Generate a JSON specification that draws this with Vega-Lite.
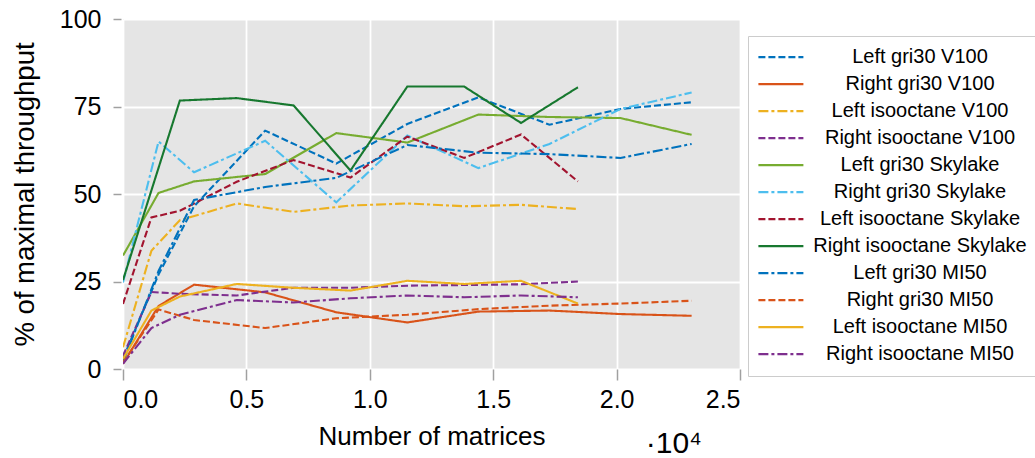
{
  "$schema": "https://vega.github.io/schema/vega-lite/v6.json",
  "width": 617,
  "height": 350,
  "autosize": {"type": "none"},
  "padding": {"left": 123, "top": 19, "right": 295, "bottom": 89},
  "background": "white",
  "title": {"text": "·10⁴", "orient": "bottom", "anchor": "end", "frame": "group", "dx": -38, "dy": -24, "fontSize": 30, "font": "Liberation Sans", "fontWeight": "normal", "color": "black"},
  "config": {
    "view": {"fill": "#e5e5e5", "stroke": null},
    "font": "Liberation Sans"
  },
  "datasets": {
    "pts": [
      {"s": "Left gri30 V100", "x": 0, "y": 3},
      {"s": "Left gri30 V100", "x": 1440, "y": 27},
      {"s": "Left gri30 V100", "x": 2880, "y": 46.5},
      {"s": "Left gri30 V100", "x": 5760, "y": 68.1},
      {"s": "Left gri30 V100", "x": 8640, "y": 58.7},
      {"s": "Left gri30 V100", "x": 11520, "y": 70},
      {"s": "Left gri30 V100", "x": 14400, "y": 77.6},
      {"s": "Left gri30 V100", "x": 17280, "y": 69.8},
      {"s": "Left gri30 V100", "x": 20160, "y": 74.3},
      {"s": "Left gri30 V100", "x": 23040, "y": 76.2},

      {"s": "Right gri30 V100", "x": 0, "y": 1.5},
      {"s": "Right gri30 V100", "x": 1440, "y": 18},
      {"s": "Right gri30 V100", "x": 2880, "y": 24.1},
      {"s": "Right gri30 V100", "x": 5760, "y": 21.9},
      {"s": "Right gri30 V100", "x": 8640, "y": 16.2},
      {"s": "Right gri30 V100", "x": 11520, "y": 13.3},
      {"s": "Right gri30 V100", "x": 14400, "y": 16.4},
      {"s": "Right gri30 V100", "x": 17280, "y": 16.7},
      {"s": "Right gri30 V100", "x": 20160, "y": 15.7},
      {"s": "Right gri30 V100", "x": 23040, "y": 15.2},

      {"s": "Left isooctane V100", "x": 0, "y": 6.2},
      {"s": "Left isooctane V100", "x": 1152, "y": 33.8},
      {"s": "Left isooctane V100", "x": 2304, "y": 42.5},
      {"s": "Left isooctane V100", "x": 4608, "y": 47.3},
      {"s": "Left isooctane V100", "x": 6912, "y": 44.9},
      {"s": "Left isooctane V100", "x": 9216, "y": 46.7},
      {"s": "Left isooctane V100", "x": 11520, "y": 47.3},
      {"s": "Left isooctane V100", "x": 13824, "y": 46.5},
      {"s": "Left isooctane V100", "x": 16128, "y": 46.9},
      {"s": "Left isooctane V100", "x": 18432, "y": 45.7},

      {"s": "Right isooctane V100", "x": 0, "y": 3.8},
      {"s": "Right isooctane V100", "x": 1152, "y": 22},
      {"s": "Right isooctane V100", "x": 2304, "y": 21.5},
      {"s": "Right isooctane V100", "x": 4608, "y": 21},
      {"s": "Right isooctane V100", "x": 6912, "y": 23.2},
      {"s": "Right isooctane V100", "x": 9216, "y": 23.2},
      {"s": "Right isooctane V100", "x": 11520, "y": 23.8},
      {"s": "Right isooctane V100", "x": 13824, "y": 24},
      {"s": "Right isooctane V100", "x": 16128, "y": 24.2},
      {"s": "Right isooctane V100", "x": 18432, "y": 25},

      {"s": "Left gri30 Skylake", "x": 0, "y": 32.4},
      {"s": "Left gri30 Skylake", "x": 1440, "y": 50.3},
      {"s": "Left gri30 Skylake", "x": 2880, "y": 53.6},
      {"s": "Left gri30 Skylake", "x": 5760, "y": 55.7},
      {"s": "Left gri30 Skylake", "x": 8640, "y": 67.4},
      {"s": "Left gri30 Skylake", "x": 11520, "y": 64.7},
      {"s": "Left gri30 Skylake", "x": 14400, "y": 72.7},
      {"s": "Left gri30 Skylake", "x": 17280, "y": 72},
      {"s": "Left gri30 Skylake", "x": 20160, "y": 71.7},
      {"s": "Left gri30 Skylake", "x": 23040, "y": 66.9},

      {"s": "Right gri30 Skylake", "x": 0, "y": 24.7},
      {"s": "Right gri30 Skylake", "x": 1440, "y": 65},
      {"s": "Right gri30 Skylake", "x": 2880, "y": 56.2},
      {"s": "Right gri30 Skylake", "x": 5760, "y": 65.2},
      {"s": "Right gri30 Skylake", "x": 8640, "y": 47.6},
      {"s": "Right gri30 Skylake", "x": 11520, "y": 66.7},
      {"s": "Right gri30 Skylake", "x": 14400, "y": 57.4},
      {"s": "Right gri30 Skylake", "x": 17280, "y": 64.3},
      {"s": "Right gri30 Skylake", "x": 20160, "y": 74.3},
      {"s": "Right gri30 Skylake", "x": 23040, "y": 79},

      {"s": "Left isooctane Skylake", "x": 0, "y": 18.6},
      {"s": "Left isooctane Skylake", "x": 1152, "y": 43.3},
      {"s": "Left isooctane Skylake", "x": 2304, "y": 45.2},
      {"s": "Left isooctane Skylake", "x": 4608, "y": 53.5},
      {"s": "Left isooctane Skylake", "x": 6912, "y": 59.7},
      {"s": "Left isooctane Skylake", "x": 9216, "y": 54.7},
      {"s": "Left isooctane Skylake", "x": 11520, "y": 66.4},
      {"s": "Left isooctane Skylake", "x": 13824, "y": 60.3},
      {"s": "Left isooctane Skylake", "x": 16128, "y": 67},
      {"s": "Left isooctane Skylake", "x": 18432, "y": 53.6},

      {"s": "Right isooctane Skylake", "x": 0, "y": 25.4},
      {"s": "Right isooctane Skylake", "x": 2304, "y": 76.7},
      {"s": "Right isooctane Skylake", "x": 4608, "y": 77.4},
      {"s": "Right isooctane Skylake", "x": 6912, "y": 75.3},
      {"s": "Right isooctane Skylake", "x": 9216, "y": 56.7},
      {"s": "Right isooctane Skylake", "x": 11520, "y": 80.7},
      {"s": "Right isooctane Skylake", "x": 13824, "y": 80.7},
      {"s": "Right isooctane Skylake", "x": 16128, "y": 70.3},
      {"s": "Right isooctane Skylake", "x": 18432, "y": 80.5},

      {"s": "Left gri30 MI50", "x": 0, "y": 2},
      {"s": "Left gri30 MI50", "x": 1440, "y": 28},
      {"s": "Left gri30 MI50", "x": 2880, "y": 48.3},
      {"s": "Left gri30 MI50", "x": 5760, "y": 52},
      {"s": "Left gri30 MI50", "x": 8640, "y": 54.6},
      {"s": "Left gri30 MI50", "x": 11520, "y": 64},
      {"s": "Left gri30 MI50", "x": 14400, "y": 61.8},
      {"s": "Left gri30 MI50", "x": 17280, "y": 61.4},
      {"s": "Left gri30 MI50", "x": 20160, "y": 60.3},
      {"s": "Left gri30 MI50", "x": 23040, "y": 64.3},

      {"s": "Right gri30 MI50", "x": 0, "y": 1.8},
      {"s": "Right gri30 MI50", "x": 1440, "y": 17},
      {"s": "Right gri30 MI50", "x": 2880, "y": 14},
      {"s": "Right gri30 MI50", "x": 5760, "y": 11.7},
      {"s": "Right gri30 MI50", "x": 8640, "y": 14.5},
      {"s": "Right gri30 MI50", "x": 11520, "y": 15.5},
      {"s": "Right gri30 MI50", "x": 14400, "y": 17.1},
      {"s": "Right gri30 MI50", "x": 17280, "y": 18.1},
      {"s": "Right gri30 MI50", "x": 20160, "y": 18.7},
      {"s": "Right gri30 MI50", "x": 23040, "y": 19.5},

      {"s": "Left isooctane MI50", "x": 0, "y": 2.9},
      {"s": "Left isooctane MI50", "x": 1152, "y": 16.7},
      {"s": "Left isooctane MI50", "x": 2304, "y": 20.7},
      {"s": "Left isooctane MI50", "x": 4608, "y": 24.3},
      {"s": "Left isooctane MI50", "x": 6912, "y": 23.2},
      {"s": "Left isooctane MI50", "x": 9216, "y": 22.4},
      {"s": "Left isooctane MI50", "x": 11520, "y": 25.2},
      {"s": "Left isooctane MI50", "x": 13824, "y": 24.3},
      {"s": "Left isooctane MI50", "x": 16128, "y": 25.2},
      {"s": "Left isooctane MI50", "x": 18432, "y": 18.7},

      {"s": "Right isooctane MI50", "x": 0, "y": 1.5},
      {"s": "Right isooctane MI50", "x": 1152, "y": 11.7},
      {"s": "Right isooctane MI50", "x": 2304, "y": 15.5},
      {"s": "Right isooctane MI50", "x": 4608, "y": 19.7},
      {"s": "Right isooctane MI50", "x": 6912, "y": 19},
      {"s": "Right isooctane MI50", "x": 9216, "y": 20.2},
      {"s": "Right isooctane MI50", "x": 11520, "y": 21},
      {"s": "Right isooctane MI50", "x": 13824, "y": 20.5},
      {"s": "Right isooctane MI50", "x": 16128, "y": 21},
      {"s": "Right isooctane MI50", "x": 18432, "y": 20.5}
    ]
  },
  "data": {"name": "pts"},
  "mark": {"type": "line", "strokeWidth": 2.1, "clip": true},
  "encoding": {
    "x": {
      "field": "x", "type": "quantitative",
      "scale": {"domain": [0, 25000], "nice": false, "zero": false},
      "axis": {
        "title": "Number of matrices",
        "values": [0, 5000, 10000, 15000, 20000, 25000],
        "labelExpr": "format(datum.value / 10000, '.1f')",
        "labelFontSize": 25, "labelColor": "black", "labelPadding": 7,
        "titleFontSize": 26, "titleFontWeight": "normal", "titleColor": "black", "titlePadding": 11,
        "domain": false, "tickColor": "#a0a0a0", "tickSize": 11, "tickWidth": 1.5,
        "grid": true, "gridColor": "white", "gridWidth": 1.8
      }
    },
    "y": {
      "field": "y", "type": "quantitative",
      "scale": {"domain": [0, 100], "nice": false},
      "axis": {
        "title": "% of maximal throughput",
        "values": [0, 25, 50, 75, 100],
        "labelFontSize": 25, "labelColor": "black", "labelPadding": 12,
        "titleFontSize": 27.5, "titleFontWeight": "normal", "titleColor": "black", "titlePadding": 20,
        "domain": false, "tickColor": "#a0a0a0", "tickSize": 8, "tickWidth": 1.5, "offset": 2,
        "grid": true, "gridColor": "white", "gridWidth": 1.8
      }
    },
    "color": {
      "field": "s", "type": "nominal",
      "scale": {
        "domain": ["Left gri30 V100", "Right gri30 V100", "Left isooctane V100", "Right isooctane V100", "Left gri30 Skylake", "Right gri30 Skylake", "Left isooctane Skylake", "Right isooctane Skylake", "Left gri30 MI50", "Right gri30 MI50", "Left isooctane MI50", "Right isooctane MI50"],
        "range": ["#0072BD", "#D95319", "#EDB120", "#7E2F8E", "#77AC30", "#4DBEEE", "#A2142F", "#17782f", "#0072BD", "#D95319", "#EDB120", "#7E2F8E"]
      },
      "legend": {
        "title": null,
        "orient": "none", "legendX": 625, "legendY": 17,
        "symbolType": "M-0.9,0H4.1", "symbolSize": 324, "symbolStrokeWidth": 2.1,
        "labelFontSize": 20, "labelColor": "black", "labelAlign": "center", "labelOffset": 143, "labelLimit": 400,
        "clipHeight": 26.2, "rowPadding": 0,
        "padding": 8, "strokeColor": "#cccccc", "fillColor": "white"
      }
    },
    "strokeDash": {
      "field": "s", "type": "nominal",
      "scale": {
        "domain": ["Left gri30 V100", "Right gri30 V100", "Left isooctane V100", "Right isooctane V100", "Left gri30 Skylake", "Right gri30 Skylake", "Left isooctane Skylake", "Right isooctane Skylake", "Left gri30 MI50", "Right gri30 MI50", "Left isooctane MI50", "Right isooctane MI50"],
        "range": [[7, 3], [1, 0], [10, 3, 3, 3], [7, 3], [1, 0], [10, 3, 3, 3], [7, 3], [1, 0], [10, 3, 3, 3], [7, 3], [1, 0], [10, 3, 3, 3]]
      },
      "legend": {
        "title": null,
        "orient": "none", "legendX": 625, "legendY": 17,
        "symbolType": "M-0.9,0H4.1", "symbolSize": 324, "symbolStrokeWidth": 2.1,
        "labelFontSize": 20, "labelColor": "black", "labelAlign": "center", "labelOffset": 143, "labelLimit": 400,
        "clipHeight": 26.2, "rowPadding": 0,
        "padding": 8, "strokeColor": "#cccccc", "fillColor": "white"
      }
    }
  }
}
